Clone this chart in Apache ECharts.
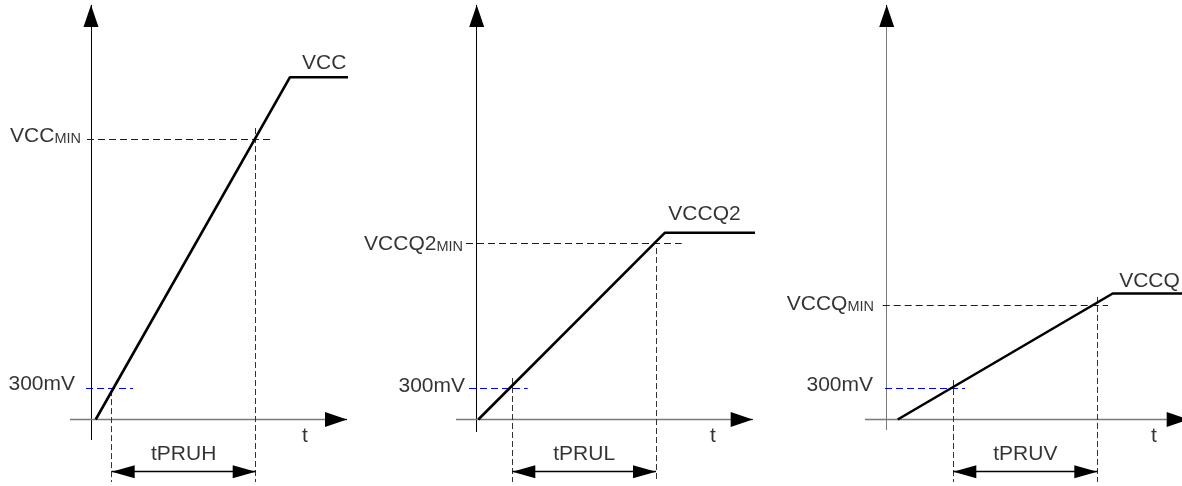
<!DOCTYPE html>
<html><head><meta charset="utf-8">
<script src="https://cdn.jsdelivr.net/npm/echarts@6/dist/echarts.min.js"></script>
<style>html,body{margin:0;padding:0;background:#fff}#c{width:1182px;height:486px}</style>
</head><body><div id="c"></div>
<script>
// ---- values (time in arbitrary units, voltage in V) ----
const supplyNames   = ['VCC', 'VCCQ2', 'VCCQ'];
const timingNames   = ['tPRUH', 'tPRUL', 'tPRUV'];
const lowLabel      = '300mV';
const lowLevel      = 0.3;
const rampStartT    = [0.47, 0.16, 1.1];
const rampEndT      = [19.9, 18.83, 22.6];
const flatEndT      = [25.7, 27.83, 30.5];
const supplyLevel   = [3.26, 1.779, 1.2];
const minLevel      = [2.667, 1.678, 1.084];
const t300          = [2.07, 3.56, 6.66];
const tMin          = [16.47, 17.93, 21.06];
// diagram geometry
const minLineSpan   = [[-0.4, 18.1], [-1.07, 20.5], [-0.4, 22.13]];
const lowLineSpan   = [[-0.5, 4.2], [-0.77, 5.1], [-0.17, 7.83]];
const tAxisSpan     = [[-2.1, 25.6], [-2.07, 27.6], [-2.17, 30.2]];
const vAxisSpan     = [[-0.195, 3.948], [-0.119, 3.948], [-0.1, 3.948]];
const guideTop300   = [0.28, 0.395, 0.376];
const guideTopMin   = [2.776, 1.633, 1.167];
const guideBottom   = -0.595;
const dimLevel      = -0.497;
const supplyLabelAt = [[21.1, 3.405], [19.16, 1.967], [23.25, 1.329]];
const minLabelAt    = [[-1.0, 2.71], [-1.37, 1.686], [-1.27, 1.114]];
const lowLabelAt    = [[-1.6, 0.348], [-1.17, 0.329], [-1.37, 0.338]];
const tLabelAt      = [[21.4, -0.148], [23.63, -0.148], [26.73, -0.148]];
const timingLabelV  = -0.319;

// ---- layout ----
const sx = 10, sy = 105, originY = 419.5;
const originX = [91, 476.7, 886.7];
const tRange = [[-9, 27], [-10, 29], [-9, 31]];
const vRange = [-0.6, 4.0];
const yAxisColor = ['#000', '#000', '#7a7a7a'];
const xAxisColor = '#7a7a7a';
const FONT = '"Liberation Sans", Arial, sans-serif';
const TEXT = '#000';
const arrowSym = 'path://M10,0 M10,40 L20,80 L0,80 Z';

const grids = [], xAxes = [], yAxes = [], series = [];

function seg(a, b, style, startSym, endSym) {
  return [
    Object.assign({coord: a, lineStyle: style}, startSym || {symbol: 'none'}),
    Object.assign({coord: b}, endSym || {symbol: 'none'})
  ];
}

for (let i = 0; i < 3; i++) {
  const [t0, t1] = tRange[i];
  grids.push({
    left: originX[i] + sx * t0, width: sx * (t1 - t0),
    top: originY - sy * vRange[1], height: sy * (vRange[1] - vRange[0]),
    containLabel: false, outerBoundsMode: 'none'
  });
  xAxes.push({type: 'value', gridIndex: i, min: t0, max: t1, show: false});
  yAxes.push({type: 'value', gridIndex: i, min: vRange[0], max: vRange[1], show: false});

  const solid = (c, w) => ({color: c, width: w, type: 'solid', opacity: 1});
  const blueDash = {color: '#0000ff', width: 1, type: [7, 4], opacity: 1};
  const blackDash = {color: '#333', width: 1, type: [6, 3], opacity: 1};
  const axArrow = {symbol: arrowSym, symbolSize: [15, 44]};
  const dimArrow = {symbol: arrowSym, symbolSize: [13, 46]};

  const ml = [
    seg([0, vAxisSpan[i][0]], [0, vAxisSpan[i][1]], solid(yAxisColor[i], 1)),
    seg([0, vAxisSpan[i][1] - 0.1], [0, vAxisSpan[i][1]], solid('#000', 1), null, axArrow),
    seg([tAxisSpan[i][0], 0], [tAxisSpan[i][1], 0], solid(xAxisColor, 1.3)),
    seg([tAxisSpan[i][1] - 1, 0], [tAxisSpan[i][1], 0], solid('#000', 1), null, axArrow),
    seg([minLineSpan[i][0], minLevel[i]], [minLineSpan[i][1], minLevel[i]], blueDash),
    seg([lowLineSpan[i][0], lowLevel], [lowLineSpan[i][1], lowLevel], blueDash),
    seg([t300[i], guideTop300[i]], [t300[i], guideBottom], blackDash),
    seg([tMin[i], guideTopMin[i]], [tMin[i], guideBottom], blackDash),
    seg([t300[i], dimLevel], [tMin[i], dimLevel], solid('#000', 1.3), dimArrow, dimArrow)
  ];

  series.push({
    type: 'line', xAxisIndex: i, yAxisIndex: i, silent: true, clip: false, z: 5,
    symbol: 'none', animation: false,
    lineStyle: {color: '#000', width: 2.6},
    data: [[rampStartT[i], 0], [rampEndT[i], supplyLevel[i]], [flatEndT[i], supplyLevel[i]]],
    markLine: {silent: true, animation: false, symbol: ['none', 'none'], label: {show: false},
               emphasis: {disabled: true}, data: ml}
  });

  const labels = [
    {at: supplyLabelAt[i], text: '{a|' + supplyNames[i] + '}', align: 'left'},
    {at: minLabelAt[i], text: '{a|' + supplyNames[i] + '}{s|MIN}', align: 'right'},
    {at: lowLabelAt[i], text: '{a|' + lowLabel + '}', align: 'right'},
    {at: tLabelAt[i], text: '{a|t}', align: 'center'},
    {at: [(t300[i] + tMin[i]) / 2, timingLabelV], text: '{a|' + timingNames[i] + '}', align: 'center'}
  ];
  series.push({
    type: 'scatter', xAxisIndex: i, yAxisIndex: i, silent: true, clip: false, z: 6,
    symbolSize: 0, animation: false, itemStyle: {color: 'transparent'},
    emphasis: {disabled: true},
    data: labels.map(l => ({value: l.at, label: {formatter: l.text, align: l.align}})),
    label: {
      show: true, position: 'inside', verticalAlign: 'middle', color: TEXT,
      fontFamily: FONT, fontSize: 21,
      rich: {
        a: {fontFamily: FONT, fontSize: 21, color: TEXT, lineHeight: 24, verticalAlign: 'bottom'},
        s: {fontFamily: FONT, fontSize: 14.5, color: TEXT, lineHeight: 12, verticalAlign: 'bottom'}
      }
    }
  });
}

const chart = echarts.init(document.getElementById('c'), null, {renderer: 'canvas'});
chart.setOption({
  animation: false, backgroundColor: '#fff',
  grid: grids, xAxis: xAxes, yAxis: yAxes, series: series
});
</script></body></html>
